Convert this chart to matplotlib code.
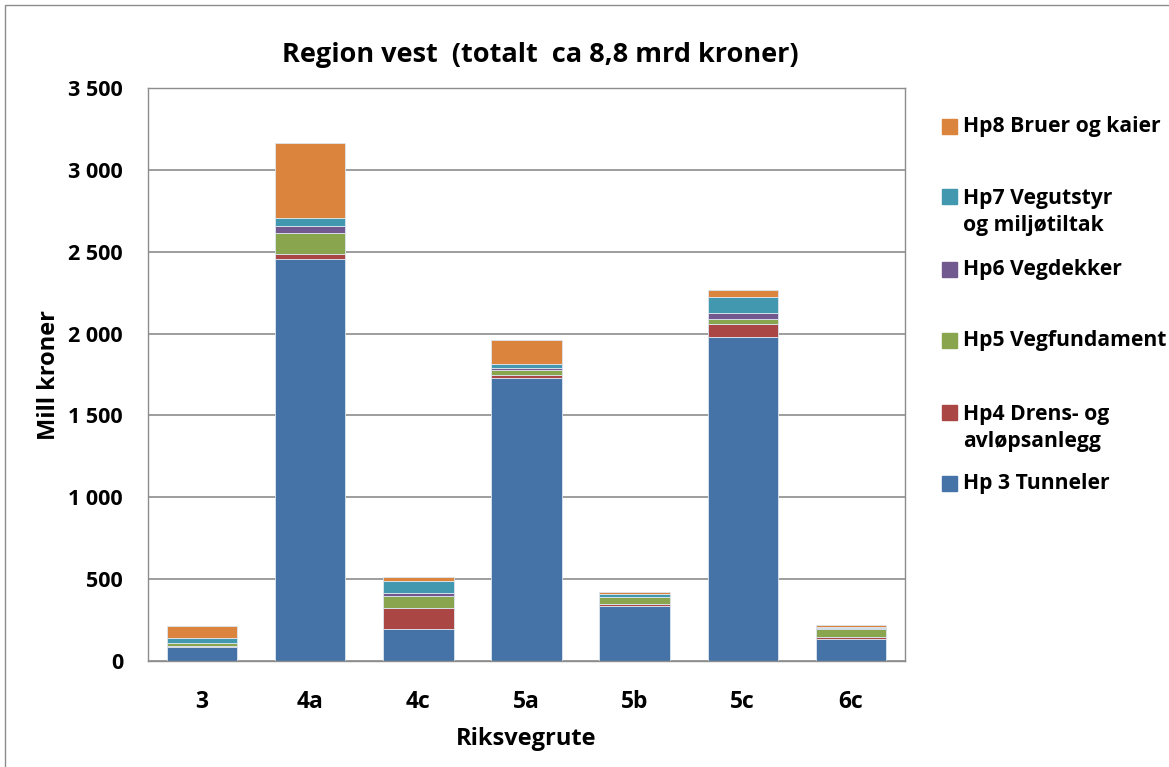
import numpy as np
import matplotlib.pyplot as plt
from matplotlib.patches import Rectangle

plt.rcParams['font.family'] = ['Open Sans', 'DejaVu Sans']
plt.rcParams['font.weight'] = 'bold'

routes = ['3', '4a', '4c', '5a', '5b', '5c', '6c']
hp3 = [85, 2455, 194, 1729, 338, 1981, 136]
hp4 = [8, 29, 130, 16, 8, 75, 12]
hp5 = [15, 128, 71, 32, 43, 35, 49]
hp6 = [5, 47, 18, 11, 3, 35, 5]
hp7 = [27, 49, 77, 24, 20, 95, 8]
hp8 = [72, 454, 25, 147, 10, 43, 12]

series = [hp3, hp4, hp5, hp6, hp7, hp8]
labels = ['Hp 3 Tunneler', 'Hp4 Drens- og\navløpsanlegg', 'Hp5 Vegfundament',
          'Hp6 Vegdekker', 'Hp7 Vegutstyr\nog miljøtiltak', 'Hp8 Bruer og kaier']
colors = ['#4572A7', '#AA4643', '#89A54E', '#71588F', '#4198AF', '#DB843D']

fig = plt.figure(figsize=(11.69, 7.67), dpi=100)
ax = fig.add_axes([148 / 1169, 1 - 661 / 767, 757 / 1169, 573 / 767])

x = np.arange(len(routes))
bottom = np.zeros(len(routes))
for vals, c in zip(series, colors):
    ax.bar(x, vals, 0.65, bottom=bottom, color=c, edgecolor='#dde6f0', linewidth=0.6)
    bottom += np.array(vals)

ax.set_xlim(-0.5, len(routes) - 0.5)
ax.set_ylim(0, 3500)
ax.set_yticks(np.arange(0, 3501, 500))
ax.set_yticklabels([f'{v:,}'.replace(',', ' ') for v in range(0, 3501, 500)], fontsize=15.5)
ax.set_xticks(x)
ax.set_xticklabels(routes, fontsize=16.5)
ax.tick_params(axis='y', length=0, pad=18)
ax.tick_params(axis='x', length=0, pad=21)
ax.yaxis.grid(True, color='#8c8c8c', linewidth=1.2)
ax.set_axisbelow(True)
for s in ax.spines.values():
    s.set_color('#8c8c8c')
    s.set_linewidth(1.0)

ax.set_xlabel('Riksvegrute', fontsize=17, fontweight='bold', labelpad=9)
ax.set_ylabel('Mill kroner', fontsize=17, fontweight='bold', labelpad=5)
fig.text(540 / 1169, 1 - 55 / 767, 'Region vest  (totalt  ca 8,8 mrd kroner)',
         ha='center', va='center', fontsize=19.5, fontweight='bold')

# legend, placed by hand like the original
leg_y = [483.5, 428, 340.5, 269.5, 212, 126.5]
sq_y = [483.5, 412.5, 340.5, 269.5, 196.5, 126.5]
for lab, c, ty, sy in zip(labels, colors, leg_y, sq_y):
    fig.patches.append(Rectangle((942 / 1169, 1 - (sy + 7.5) / 767), 15 / 1169, 15 / 767,
                                 transform=fig.transFigure, color=c))
    fig.text(963 / 1169, 1 - ty / 767, lab, ha='left', va='center', fontsize=15.2,
             fontweight='bold', linespacing=1.35)

fig.patches.append(Rectangle((5 / 1169, -0.01), 1.2, 1 - 5 / 767 + 0.01,
                             transform=fig.transFigure, fill=False,
                             edgecolor='#8c8c8c', linewidth=1.0))

fig.savefig('out.png', dpi=100)
